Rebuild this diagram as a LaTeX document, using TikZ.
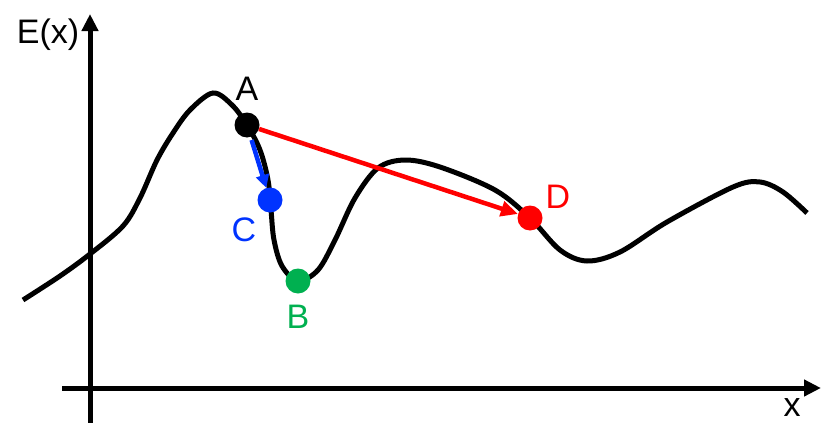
\documentclass[tikz,border=0pt]{standalone}
\usepackage{fontspec}
\setmainfont{Liberation Sans}
\usetikzlibrary{arrows.meta}
\definecolor{cred}{RGB}{255,0,0}
\definecolor{cblue}{RGB}{0,51,255}
\definecolor{cgreen}{RGB}{0,176,80}
\begin{document}
\begin{tikzpicture}[x=1pt,y=-1pt,
  axis/.style={line width=5pt,-{Triangle[length=17pt,width=16pt]}},
  curve/.style={line width=5pt},
  dot/.style={circle,inner sep=0pt,minimum size=25pt},
  lbl/.style={font=\fontsize{34}{38}\selectfont,inner sep=0pt}]
\useasboundingbox (0,0) rectangle (822,423);
% axes
\coordinate (ybot) at (90,423);
\coordinate (ytop) at (90,14);
\coordinate (xl) at (62,388);
\coordinate (xr) at (821,388);
\draw[axis] (ybot) -- (ytop);
\draw[axis] (xl) -- (xr);
\node[lbl] (Ex) at (48,35) {E(x)};
\node[lbl] (xlab) at (792,408) {x};
% curve
\draw[curve] plot[smooth,tension=0.55] coordinates {
 (23,300) (60,276) (90,254) (123,226) (140,198) (157,160) (173,133) (190,110) (213,93)
 (232,105) (247,125) (260,150) (268,180) (271,210) (274,240) (282,266) (298,281)
 (318,270) (335,240) (355,198) (378,168) (405,160) (440,167) (495,190) (530,218)
 (560,250) (587,261) (620,252) (667,222) (733,187) (760,182) (783,192) (807,213)};
% dots
\node[dot,fill=black] (A) at (247,125) {};
\node[dot,fill=cblue] (C) at (270,200) {};
\node[dot,fill=cgreen] (B) at (298,281) {};
\node[dot,fill=cred] (D) at (530,218) {};
% labels
\node[lbl] (Al) at (247,89) {A};
\node[lbl,text=cblue] (Cl) at (244,230) {C};
\node[lbl,text=cgreen] (Bl) at (298,317) {B};
\node[lbl,text=cred] (Dl) at (558,197) {D};
% arrows
\draw[cred,line width=4.5pt,-{Triangle[length=17pt,width=15pt]}] (A) -- (D);
\draw[cblue,line width=4.5pt,shorten <=3pt,-{Triangle[length=13pt,width=13pt]}] (A) -- (C);
\end{tikzpicture}
\end{document}
